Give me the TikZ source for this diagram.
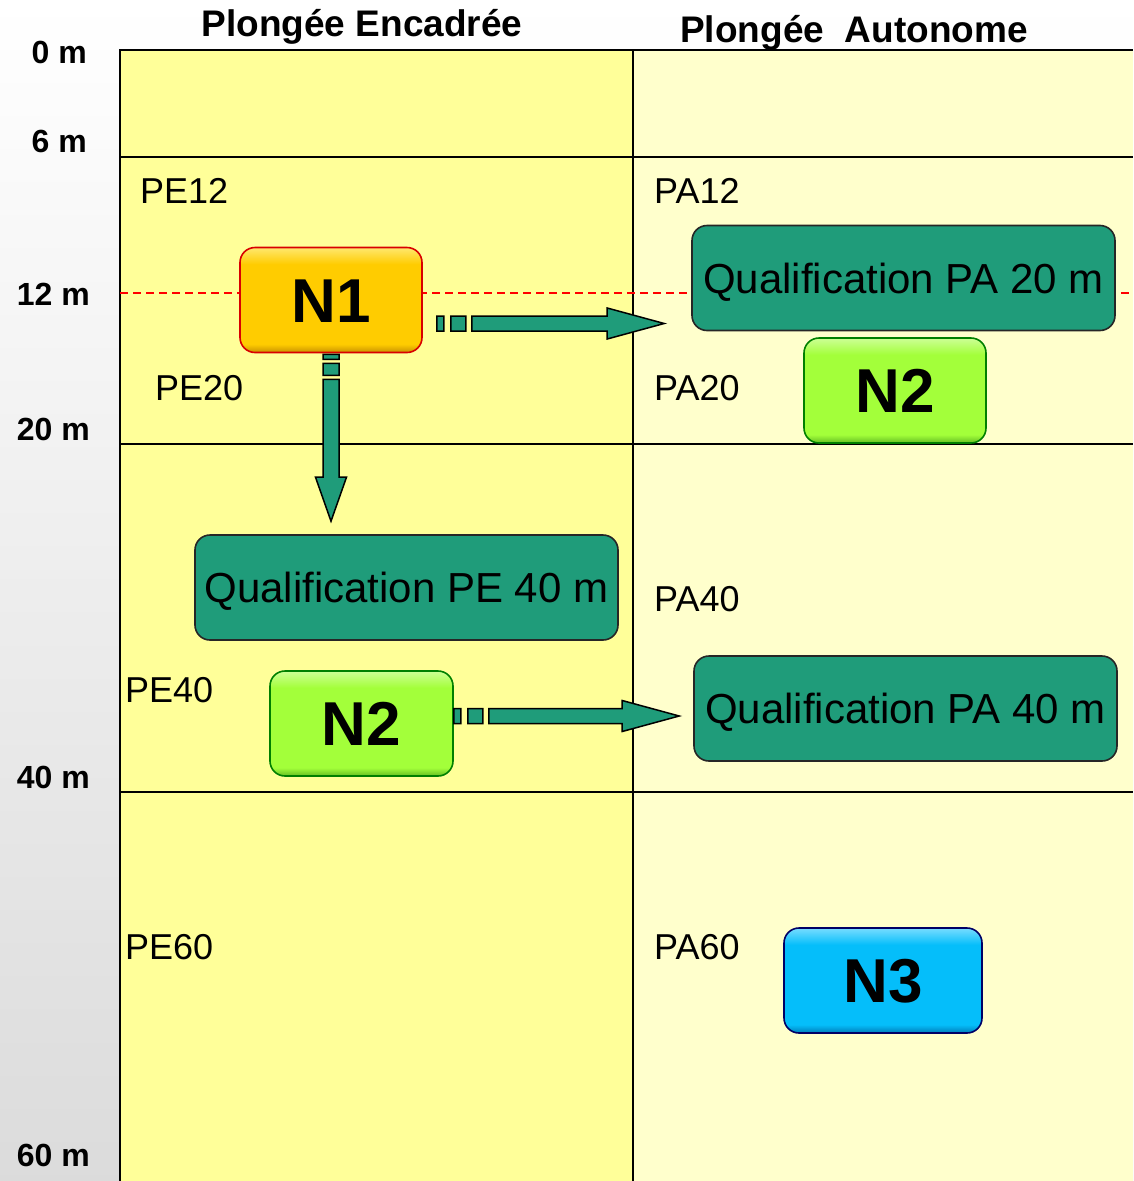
\documentclass[tikz,border=0pt]{standalone}
\usepackage{fontspec}
\setmainfont{Liberation Sans}
\usetikzlibrary{calc}
\definecolor{colL}{RGB}{255,255,153}
\definecolor{colR}{RGB}{255,255,204}
\definecolor{tealq}{RGB}{31,156,122}
\definecolor{goldB}{RGB}{255,204,0}
\definecolor{goldL}{RGB}{255,232,110}
\definecolor{goldD}{RGB}{200,145,0}
\definecolor{grnB}{RGB}{163,255,58}
\definecolor{grnL}{RGB}{205,255,150}
\definecolor{grnD}{RGB}{100,190,35}
\definecolor{bluB}{RGB}{5,190,250}
\definecolor{bluL}{RGB}{120,220,255}
\definecolor{bluD}{RGB}{0,125,185}
\pgfdeclareverticalshading{goldbev}{100bp}{color(0bp)=(goldD); color(25bp)=(goldD); color(29bp)=(goldB); color(67bp)=(goldB); color(75bp)=(goldL); color(100bp)=(goldL)}
\pgfdeclareverticalshading{grnbev}{100bp}{color(0bp)=(grnD); color(25bp)=(grnD); color(29bp)=(grnB); color(67bp)=(grnB); color(75bp)=(grnL); color(100bp)=(grnL)}
\pgfdeclareverticalshading{blubev}{100bp}{color(0bp)=(bluD); color(25bp)=(bluD); color(29bp)=(bluB); color(67bp)=(bluB); color(75bp)=(bluL); color(100bp)=(bluL)}
\tikzset{
  gridline/.style={draw=black, line width=1.6pt},
  title/.style={font=\fontsize{37}{40}\selectfont\bfseries, inner sep=0pt},
  dlab/.style={font=\fontsize{32}{36}\selectfont\bfseries, inner sep=0pt, anchor=base east},
  lvl/.style={font=\fontsize{36}{40}\selectfont, inner sep=0pt, anchor=base west},
  nbox/.style={rounded corners=15pt, minimum width=182pt, minimum height=105pt, inner sep=0pt,
    line width=1.6pt, font=\fontsize{62}{62}\selectfont\bfseries, text height=44.4pt, text depth=0pt},
  nyel/.style={nbox, shading=goldbev, draw=red!85!black},
  ngrn/.style={nbox, shading=grnbev, draw=green!50!black},
  nblu/.style={nbox, shading=blubev, draw=blue!40!black},
  qbox/.style={draw=black!85, line width=1.6pt, fill=tealq, rounded corners=15pt,
    minimum width=423pt, minimum height=105pt, inner sep=0pt,
    font=\fontsize{42}{42}\selectfont, text height=30pt, text depth=0pt},
  blockarr/.style={fill=tealq, draw=black, line width=1.5pt, line join=miter}
}
\newcommand{\hblockarrow}[2]{%
  \draw[blockarr] let \p1=(#1), \p2=(#2) in
    (\x1,\y1-7.5pt) rectangle (\x1+7pt,\y1+7.5pt)
    (\x1+14pt,\y1-7.5pt) rectangle (\x1+29pt,\y1+7.5pt)
    (\x1+35pt,\y1-7.5pt) -- (\x2-57pt,\y1-7.5pt) -- (\x2-57pt,\y1-15.5pt) -- (\x2,\y1)
    -- (\x2-57pt,\y1+15.5pt) -- (\x2-57pt,\y1+7.5pt) -- (\x1+35pt,\y1+7.5pt) -- cycle;}
\begin{document}
\begin{tikzpicture}[x=1pt,y=-1pt]
\useasboundingbox (0,0) rectangle (1133,1181);
\shade[top color=white, bottom color=black!14] (0,0) rectangle (1133,1181);
% columns
\fill[colL] (120,50) rectangle (633,1181);
\fill[colR] (633,50) rectangle (1133,1181);
\draw[gridline] (120,1181) -- (120,50) -- (1133,50);
\draw[gridline] (633,50) -- (633,1181);
\draw[gridline] (120,157) -- (1133,157);
\draw[gridline] (120,444) -- (1133,444);
\draw[gridline] (120,792) -- (1133,792);
\draw[red, line width=1.4pt, dash pattern=on 8pt off 5pt] (120,293) -- (1133,293);
% titles
\node[title, anchor=base] (t1) at (362,36) {Plongée Encadrée};
\node[title, anchor=base] (t2) at (854,42) {Plongée~ Autonome};
% depth labels
\node[dlab] (d0) at (87,63) {0 m};
\node[dlab] (d6) at (87,152) {6 m};
\node[dlab] (d12) at (90,305) {12 m};
\node[dlab] (d20) at (90,440) {20 m};
\node[dlab] (d40) at (90,788) {40 m};
\node[dlab] (d60) at (90,1166) {60 m};
% level labels
\node[lvl] (pe12) at (140,203) {PE12};
\node[lvl] (pa12) at (654,203) {PA12};
\node[lvl] (pe20) at (155,400) {PE20};
\node[lvl] (pa20) at (654,400) {PA20};
\node[lvl] (pa40) at (654,611) {PA40};
\node[lvl] (pe40) at (125,702) {PE40};
\node[lvl] (pe60) at (125,959) {PE60};
\node[lvl] (pa60) at (654,959) {PA60};
% boxes
\node[nyel] (n1) at (331,300) {N1};
\node[qbox] (qpa20) at (903.5,278) {Qualification PA 20 m};
\node[ngrn] (n2r) at (895,390.5) {N2};
\node[qbox] (qpe40) at (406.5,587.5) {Qualification PE 40 m};
\node[ngrn, minimum width=183pt] (n2l) at (361.5,723.5) {N2};
\node[qbox] (qpa40) at (905.5,708.5) {Qualification PA 40 m};
\node[nblu, minimum width=198pt] (n3) at (883,980.5) {N3};
% arrows
\coordinate (s1) at ($(n1.east)+(14,23.5)$);
\coordinate (e1) at ($(qpa20.west)+(-27,0)$);
\hblockarrow{s1}{e1 |- s1}
\coordinate (s2) at ($(n2l.east)+(0,-7.5)$);
\coordinate (e2) at ($(qpa40.west)+(-14,0)$);
\hblockarrow{s2}{e2 |- s2}
\coordinate (s3) at ($(n1.south)+(0,1)$);
\coordinate (e3) at ($(qpe40.north)+(0,-13)$);
\draw[blockarr] let \p1=(s3), \p2=(s3 |- e3) in
  (\x1-8pt,\y1) rectangle (\x1+8pt,\y1-5pt)
  (\x1-8pt,\y1-9pt) rectangle (\x1+8pt,\y1-21pt)
  (\x1-8pt,\y1-25pt) -- (\x1-8pt,\y2+44pt) -- (\x1-15.5pt,\y2+44pt) -- (\x1,\y2)
  -- (\x1+15.5pt,\y2+44pt) -- (\x1+8pt,\y2+44pt) -- (\x1+8pt,\y1-25pt) -- cycle;
\end{tikzpicture}
\end{document}
